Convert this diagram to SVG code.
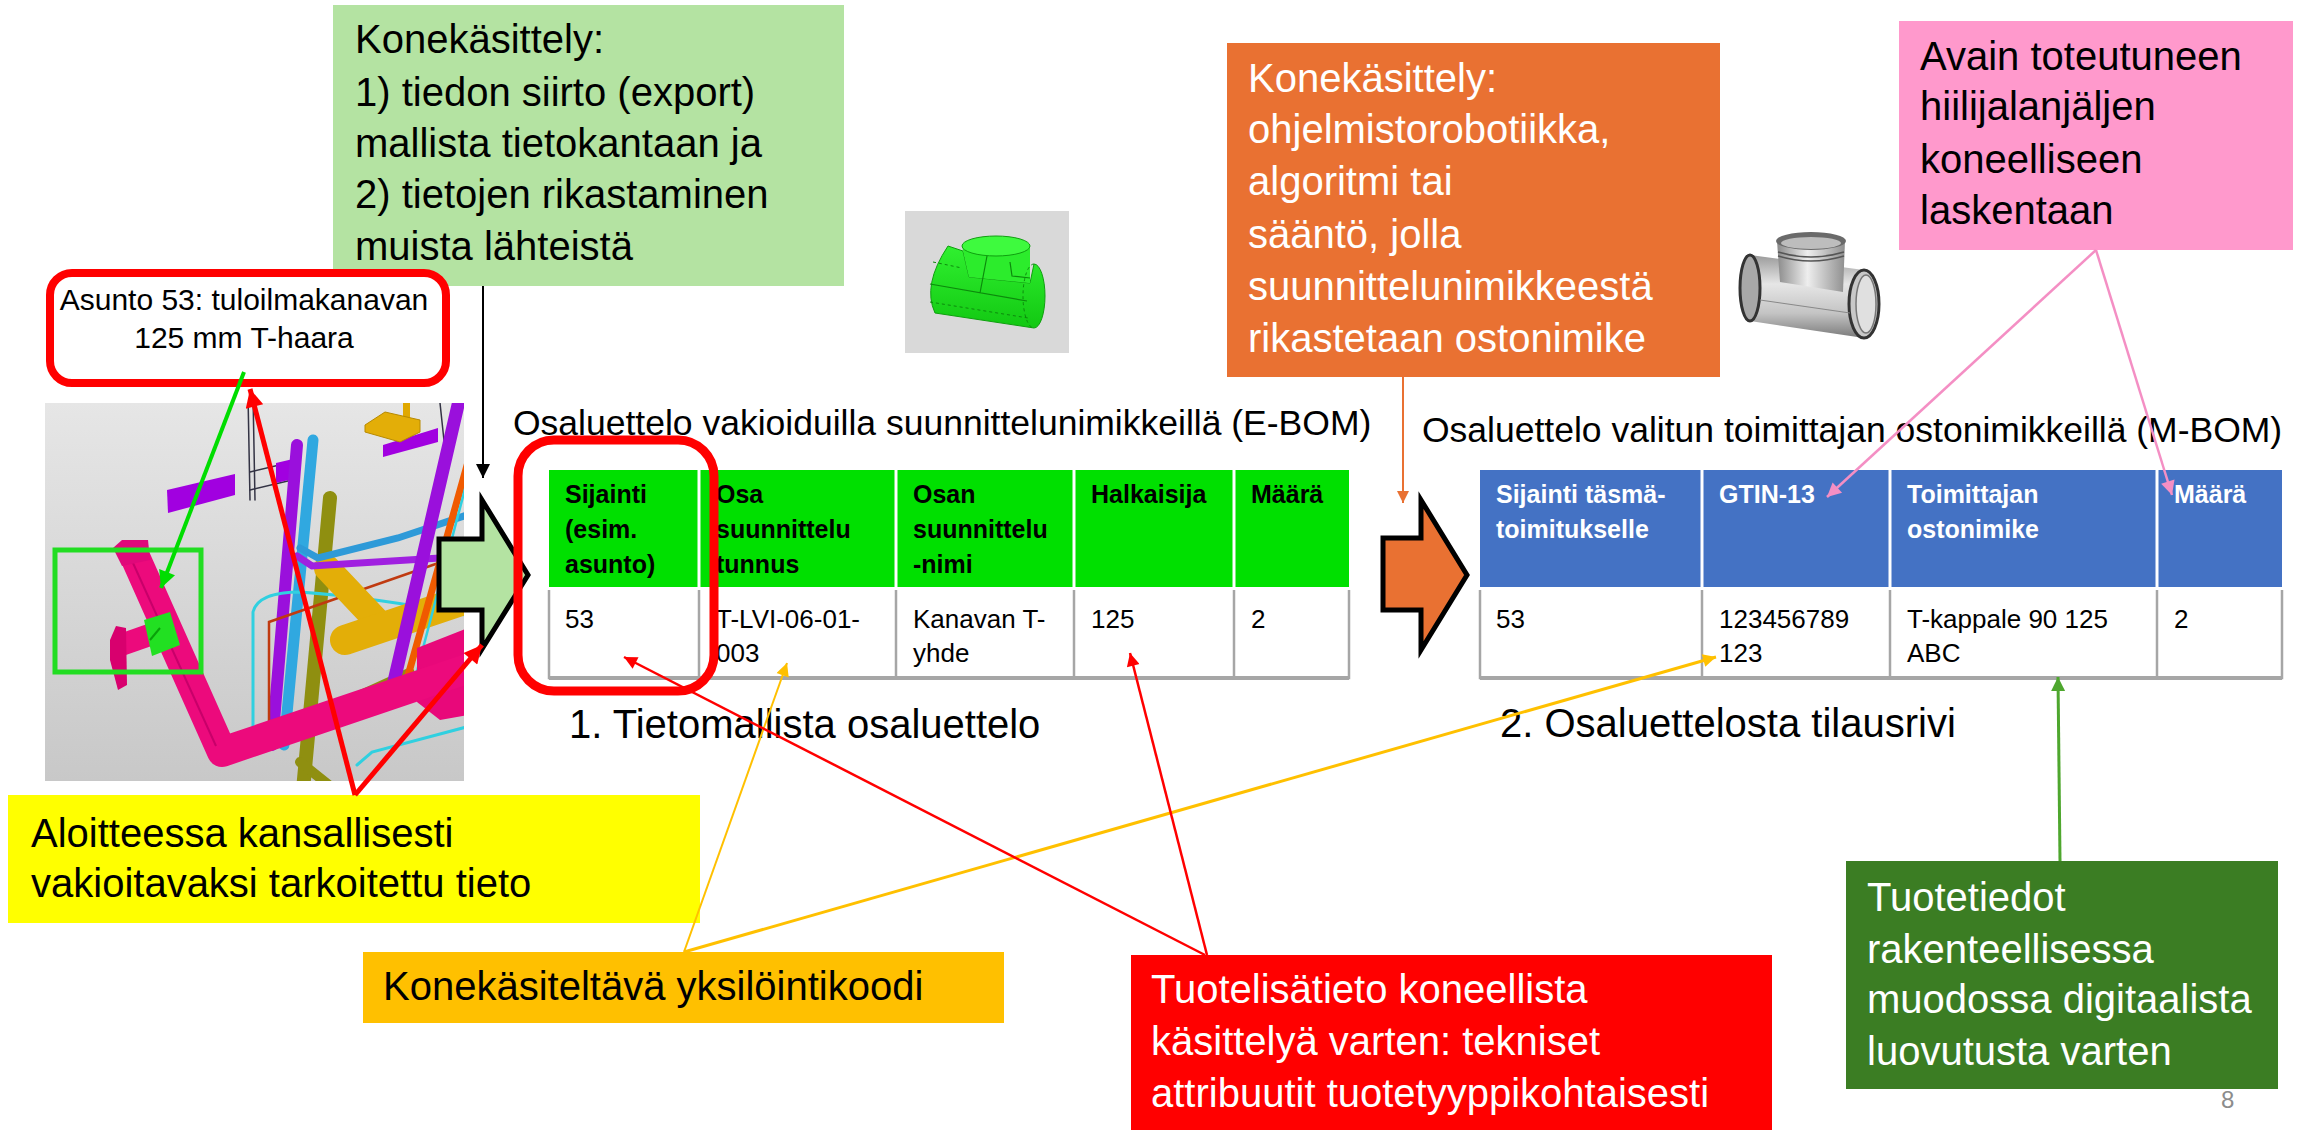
<svg xmlns="http://www.w3.org/2000/svg" width="2320" height="1130" viewBox="0 0 2320 1130">
<style>
text{font-family:"Liberation Sans",Arial,sans-serif;}
.box{font-size:40px;}
.blk{fill:#000;}
.wht{fill:#fff;}
.th{font-size:25px;font-weight:bold;}
.td{font-size:26px;fill:#000;}
.title{font-size:35.5px;fill:#000;}
.sub{font-size:40px;fill:#000;}
.grid{stroke:#A6A6A6;stroke-width:2.5;fill:none;}
.sep{stroke:#fff;stroke-width:3;}
.ln{fill:none;}
</style>
<defs>
<marker id="aBlack" viewBox="0 0 10 10" refX="10" refY="5" markerUnits="userSpaceOnUse" markerWidth="17" markerHeight="14" orient="auto"><path d="M0,0 L10,5 L0,10 z" fill="#000"/></marker>
<marker id="aRedBig" viewBox="0 0 10 10" refX="10" refY="5" markerUnits="userSpaceOnUse" markerWidth="22" markerHeight="18" orient="auto"><path d="M0,0 L10,5 L0,10 z" fill="#FF0000"/></marker>
<marker id="aRed" viewBox="0 0 10 10" refX="10" refY="5" markerUnits="userSpaceOnUse" markerWidth="17" markerHeight="13" orient="auto"><path d="M0,0 L10,5 L0,10 z" fill="#FF0000"/></marker>
<marker id="aGreen" viewBox="0 0 10 10" refX="10" refY="5" markerUnits="userSpaceOnUse" markerWidth="20" markerHeight="17" orient="auto"><path d="M0,0 L10,5 L0,10 z" fill="#00DD00"/></marker>
<marker id="aDGreen" viewBox="0 0 10 10" refX="10" refY="5" markerUnits="userSpaceOnUse" markerWidth="18" markerHeight="14" orient="auto"><path d="M0,0 L10,5 L0,10 z" fill="#4EA72E"/></marker>
<marker id="aOrange" viewBox="0 0 10 10" refX="10" refY="5" markerUnits="userSpaceOnUse" markerWidth="16" markerHeight="12" orient="auto"><path d="M0,0 L10,5 L0,10 z" fill="#E97132"/></marker>
<marker id="aPink" viewBox="0 0 10 10" refX="10" refY="5" markerUnits="userSpaceOnUse" markerWidth="18" markerHeight="14" orient="auto"><path d="M0,0 L10,5 L0,10 z" fill="#F48FC4"/></marker>
<marker id="aAmber" viewBox="0 0 10 10" refX="10" refY="5" markerUnits="userSpaceOnUse" markerWidth="17" markerHeight="13" orient="auto"><path d="M0,0 L10,5 L0,10 z" fill="#FFC000"/></marker>
<linearGradient id="bg3d" x1="0" y1="0" x2="0" y2="1"><stop offset="0" stop-color="#E6E6E6"/><stop offset="1" stop-color="#C8C8C8"/></linearGradient>
<linearGradient id="metalV" x1="0" y1="0" x2="0" y2="1"><stop offset="0" stop-color="#9A9A9A"/><stop offset="0.35" stop-color="#E6E6E6"/><stop offset="0.7" stop-color="#C4C4C4"/><stop offset="1" stop-color="#7A7A7A"/></linearGradient>
<linearGradient id="metalH" x1="0" y1="0" x2="1" y2="0"><stop offset="0" stop-color="#8A8A8A"/><stop offset="0.45" stop-color="#EEEEEE"/><stop offset="1" stop-color="#8F8F8F"/></linearGradient>
<linearGradient id="greenT" x1="0" y1="0" x2="0" y2="1"><stop offset="0" stop-color="#30F030"/><stop offset="1" stop-color="#12C812"/></linearGradient>
<clipPath id="clip3d"><rect x="45" y="403" width="419" height="378"/></clipPath>
</defs>

<!-- 3D model picture -->
<g id="model3d" clip-path="url(#clip3d)">
<rect x="45" y="403" width="419" height="378" fill="url(#bg3d)"/>
<g stroke-linecap="round" fill="none">
<line x1="248" y1="395" x2="250" y2="500" stroke="#334" stroke-width="1.5"/>
<line x1="253" y1="395" x2="255" y2="500" stroke="#334" stroke-width="1.5"/>
<line x1="250" y1="472" x2="292" y2="462" stroke="#334" stroke-width="1.5"/>
<line x1="250" y1="490" x2="292" y2="480" stroke="#334" stroke-width="1.5"/>
<line x1="440" y1="403" x2="445" y2="450" stroke="#334" stroke-width="1.5"/>
</g>
<polygon points="167,490 235,474 235,495 168,513" fill="#A100E0"/>
<polygon points="276,463 293,459 293,479 276,483" fill="#A100E0"/>
<polygon points="383,445 438,428 438,442 383,457" fill="#A100E0"/>
<rect x="403" y="403" width="7" height="18" fill="#E0A800"/>
<polygon points="365,425 385,412 420,420 420,432 400,442 365,432" fill="#E3AE08" stroke="#B88A00" stroke-width="1"/>
<g stroke-linecap="round" fill="none">
<line x1="330" y1="498" x2="303" y2="790" stroke="#8F8F10" stroke-width="14"/>
<line x1="287" y1="728" x2="410" y2="672" stroke="#8F8F10" stroke-width="9"/>
<line x1="297" y1="445" x2="272" y2="745" stroke="#9A10DC" stroke-width="12"/>
<line x1="313" y1="440" x2="284" y2="745" stroke="#30A8E0" stroke-width="11"/>
<path d="M253,745 L253,612 Q258,592 300,592 Q380,598 470,616" stroke="#30D0E0" stroke-width="3"/>
<path d="M269,745 L269,622 L470,552" stroke="#C03A10" stroke-width="2.5"/>
<line x1="327" y1="568" x2="378" y2="622" stroke="#E3AE08" stroke-width="26"/>
<line x1="345" y1="640" x2="470" y2="598" stroke="#E3AE08" stroke-width="30"/>
<polyline points="300,548 318,558 398,538 470,514" stroke="#2E9AD8" stroke-width="7"/>
<polyline points="297,556 312,566 440,558" stroke="#A020E0" stroke-width="7"/>
<line x1="458" y1="405" x2="392" y2="690" stroke="#9A10DC" stroke-width="13"/>
<line x1="468" y1="462" x2="404" y2="690" stroke="#F05A00" stroke-width="7"/>
<line x1="470" y1="470" x2="412" y2="690" stroke="#30D0E0" stroke-width="2.5"/>
<polyline points="357,765 372,752 470,726" stroke="#30D0E0" stroke-width="3"/>
<line x1="300" y1="762" x2="335" y2="790" stroke="#8F8F10" stroke-width="10"/>
</g>
<polygon points="417,648 468,628 468,715 440,720 417,702" fill="#E8087A"/>
<path d="M132,550 L222,752 L470,668" fill="none" stroke="#EC0A7C" stroke-width="30" stroke-linejoin="round"/>
<path d="M128,552 L216,746" fill="none" stroke="#C8006A" stroke-width="2"/>
<line x1="158" y1="632" x2="118" y2="646" stroke="#EC0A7C" stroke-width="22"/>
<polygon points="113,548 122,540 148,540 150,560 122,566" fill="#E0087A"/>
<polygon points="110,640 116,626 126,628 127,685 118,690 110,660" fill="#D8006E"/>
<polygon points="144,620 170,612 180,645 152,656" fill="#22E022"/>
<line x1="150" y1="640" x2="160" y2="628" stroke="#0AA00A" stroke-width="2"/>
</g>

<!-- green annotation box -->
<g id="box-konekasittely-green">
<rect x="333" y="5" width="511" height="281" fill="#B4E3A2"/>
<text class="box blk" x="355" y="53">Konekäsittely:</text>
<text class="box blk" x="355" y="106">1) tiedon siirto (export)</text>
<text class="box blk" x="355" y="157">mallista tietokantaan ja</text>
<text class="box blk" x="355" y="208">2) tietojen rikastaminen</text>
<text class="box blk" x="355" y="260">muista lähteistä</text>
</g>

<!-- Asunto label -->
<g id="label-asunto">
<rect x="50" y="273" width="396" height="110" rx="22" fill="#fff" stroke="#FF0000" stroke-width="8"/>
<text x="244" y="310" font-size="30" text-anchor="middle" fill="#000">Asunto 53: tuloilmakanavan</text>
<text x="244" y="348" font-size="30" text-anchor="middle" fill="#000">125 mm T-haara</text>
</g>

<!-- green T fitting image -->
<g id="img-green-tee">
<rect x="905" y="211" width="164" height="142" fill="#D9D9D9"/>
<path d="M948,246 L963,251 L969,277 L1030,283 L1034,264 A11,32 0 0 1 1034,328 L935,313 Q922,285 948,246 z" fill="url(#greenT)" stroke="#0FA00F" stroke-width="1"/>
<path d="M962,246 L969,277 L1030,283 L1030,246 z" fill="#2CEC2C"/>
<ellipse cx="996" cy="246" rx="34" ry="10" fill="#3EFA3E" stroke="#0FA00F" stroke-width="1"/>
<path d="M987,256 L980,293 M930,284 L1027,301 M1010,262 L1012,276 L1030,278" stroke="#0C8A0C" stroke-width="1.2" fill="none"/>
<path d="M933,262 L962,268 M930,302 L1028,318 M1034,264 A11,32 0 0 0 1034,328" stroke="#0C8A0C" stroke-width="1" stroke-dasharray="3,3" fill="none"/>
</g>

<!-- orange annotation box -->
<g id="box-konekasittely-orange">
<rect x="1227" y="43" width="493" height="334" fill="#E97132"/>
<text class="box wht" x="1248" y="92">Konekäsittely:</text>
<text class="box wht" x="1248" y="143">ohjelmistorobotiikka,</text>
<text class="box wht" x="1248" y="195">algoritmi tai</text>
<text class="box wht" x="1248" y="248">sääntö, jolla</text>
<text class="box wht" x="1248" y="300">suunnittelunimikkeestä</text>
<text class="box wht" x="1248" y="352">rikastetaan ostonimike</text>
</g>

<!-- metal T fitting image -->
<g id="img-metal-tee">
<path d="M1750,255 L1864,270 A15,34 0 0 1 1864,338 L1750,321 A10,33 0 0 1 1750,255 z" fill="url(#metalV)"/>
<path d="M1777,241 L1780,282 L1843,292 L1845,241 z" fill="url(#metalH)"/>
<ellipse cx="1811" cy="241" rx="35" ry="9" fill="#6A6A6A"/>
<ellipse cx="1811" cy="243" rx="30" ry="6" fill="#BDBDBD"/>
<path d="M1778,252 Q1811,262 1844,252 M1778,256 Q1811,266 1844,256" stroke="#555" stroke-width="1.5" fill="none"/>
<ellipse cx="1750" cy="288" rx="10" ry="33" fill="#A8A8A8" stroke="#333" stroke-width="3"/>
<ellipse cx="1864" cy="304" rx="15" ry="34" fill="#C8C8C8" stroke="#333" stroke-width="3"/>
<ellipse cx="1866" cy="304" rx="10" ry="29" fill="#E0E0E0" stroke="#777" stroke-width="1.5"/>
<path d="M1760,300 L1850,313" stroke="#888" stroke-width="1" fill="none"/>
</g>

<!-- pink annotation box -->
<g id="box-avain">
<rect x="1899" y="21" width="394" height="229" fill="#FF99CC"/>
<text class="box blk" x="1920" y="70">Avain toteutuneen</text>
<text class="box blk" x="1920" y="120">hiilijalanjäljen</text>
<text class="box blk" x="1920" y="173">koneelliseen</text>
<text class="box blk" x="1920" y="224">laskentaan</text>
</g>

<!-- E-BOM -->
<g id="ebom">
<text class="title" x="513" y="435">Osaluettelo vakioiduilla suunnittelunimikkeillä (E-BOM)</text>
<rect x="549" y="470" width="800" height="117" fill="#00E000"/>
<line class="sep" x1="699" y1="470" x2="699" y2="587"/>
<line class="sep" x1="896" y1="470" x2="896" y2="587"/>
<line class="sep" x1="1074" y1="470" x2="1074" y2="587"/>
<line class="sep" x1="1234" y1="470" x2="1234" y2="587"/>
<rect x="549" y="587" width="800" height="91" fill="#fff"/>
<path class="grid" d="M549,590 L549,678 L1349,678 L1349,590 M699,590 L699,678 M896,590 L896,678 M1074,590 L1074,678 M1234,590 L1234,678"/>
<line x1="549" y1="678" x2="1349" y2="678" stroke="#A6A6A6" stroke-width="4"/>
<g class="th blk">
<text x="565" y="503">Sijainti</text><text x="565" y="538">(esim.</text><text x="565" y="573">asunto)</text>
<text x="716" y="503">Osa</text><text x="716" y="538">suunnittelu</text><text x="716" y="573">tunnus</text>
<text x="913" y="503">Osan</text><text x="913" y="538">suunnittelu</text><text x="913" y="573">-nimi</text>
<text x="1091" y="503">Halkaisija</text>
<text x="1251" y="503">Määrä</text>
</g>
<text class="td" x="565" y="628">53</text>
<text class="td" x="716" y="628">T-LVI-06-01-</text><text class="td" x="716" y="662">003</text>
<text class="td" x="913" y="628">Kanavan T-</text><text class="td" x="913" y="662">yhde</text>
<text class="td" x="1091" y="628">125</text>
<text class="td" x="1251" y="628">2</text>
<text class="sub" x="569" y="738">1. Tietomallista osaluettelo</text>
</g>

<!-- big arrows -->
<g id="arrow-green-block">
<polygon points="439,539 482,539 482,500 528,575 482,649 482,610 439,610" fill="#B4E3A2" stroke="#000" stroke-width="5" stroke-linejoin="miter"/>
</g>
<g id="arrow-orange-block">
<polygon points="1383,538 1421,538 1421,500 1467,575 1421,650 1421,610 1383,610" fill="#E97132" stroke="#000" stroke-width="5" stroke-linejoin="miter"/>
</g>

<!-- Sijainti highlight -->
<g id="highlight-sijainti">
<rect x="518" y="440" width="196" height="251" rx="36" fill="none" stroke="#FF0000" stroke-width="9"/>
</g>

<!-- M-BOM -->
<g id="mbom">
<text class="title" x="1422" y="442">Osaluettelo valitun toimittajan ostonimikkeillä (M-BOM)</text>
<rect x="1480" y="470" width="802" height="117" fill="#4472C4"/>
<line class="sep" x1="1702" y1="470" x2="1702" y2="587"/>
<line class="sep" x1="1890" y1="470" x2="1890" y2="587"/>
<line class="sep" x1="2157" y1="470" x2="2157" y2="587"/>
<rect x="1480" y="587" width="802" height="91" fill="#fff"/>
<path class="grid" d="M1480,590 L1480,678 L2282,678 L2282,590 M1702,590 L1702,678 M1890,590 L1890,678 M2157,590 L2157,678"/>
<line x1="1480" y1="678" x2="2282" y2="678" stroke="#A6A6A6" stroke-width="4"/>
<g class="th wht">
<text x="1496" y="503">Sijainti täsmä-</text><text x="1496" y="538">toimitukselle</text>
<text x="1719" y="503">GTIN-13</text>
<text x="1907" y="503">Toimittajan</text><text x="1907" y="538">ostonimike</text>
<text x="2174" y="503">Määrä</text>
</g>
<text class="td" x="1496" y="628">53</text>
<text class="td" x="1719" y="628">123456789</text><text class="td" x="1719" y="662">123</text>
<text class="td" x="1907" y="628">T-kappale 90 125</text><text class="td" x="1907" y="662">ABC</text>
<text class="td" x="2174" y="628">2</text>
<text class="sub" x="1500" y="737">2. Osaluettelosta tilausrivi</text>
</g>

<!-- bottom boxes -->
<g id="box-aloitteessa">
<rect x="8" y="795" width="692" height="128" fill="#FFFF00"/>
<text class="box blk" x="31" y="847">Aloitteessa kansallisesti</text>
<text class="box blk" x="31" y="897">vakioitavaksi tarkoitettu tieto</text>
</g>
<g id="box-yksilointikoodi">
<rect x="363" y="952" width="641" height="71" fill="#FFC000"/>
<text class="box blk" x="383" y="1000">Konekäsiteltävä yksilöintikoodi</text>
</g>
<g id="box-tuotelisatieto">
<rect x="1131" y="955" width="641" height="180" fill="#FF0000"/>
<text class="box wht" x="1151" y="1003">Tuotelisätieto koneellista</text>
<text class="box wht" x="1151" y="1055">käsittelyä varten: tekniset</text>
<text class="box wht" x="1151" y="1107">attribuutit tuotetyyppikohtaisesti</text>
</g>
<g id="box-tuotetiedot">
<rect x="1846" y="861" width="432" height="228" fill="#3B7D23"/>
<text class="box wht" x="1867" y="911">Tuotetiedot</text>
<text class="box wht" x="1867" y="963">rakenteellisessa</text>
<text class="box wht" x="1867" y="1013">muodossa digitaalista</text>
<text class="box wht" x="1867" y="1065">luovutusta varten</text>
</g>
<g id="page-number">
<text x="2221" y="1108" font-size="24" fill="#8C8C8C">8</text>
</g>

<!-- green outline around the T in model -->
<g id="model-highlight">
<rect x="55" y="550" width="146" height="122" fill="none" stroke="#22DD22" stroke-width="5"/>
</g>

<!-- connectors -->
<g id="connectors" class="ln">
<line x1="483" y1="286" x2="483" y2="478" stroke="#000" stroke-width="2" marker-end="url(#aBlack)"/>
<line x1="244" y1="372" x2="161" y2="588" stroke="#00DD00" stroke-width="4" marker-end="url(#aGreen)"/>
<line x1="355" y1="795" x2="250" y2="389" stroke="#FF0000" stroke-width="5" marker-end="url(#aRedBig)"/>
<line x1="355" y1="795" x2="482" y2="645" stroke="#FF0000" stroke-width="5" marker-end="url(#aRedBig)"/>
<line x1="1403" y1="377" x2="1403" y2="503" stroke="#E97132" stroke-width="2" marker-end="url(#aOrange)"/>
<line x1="2096" y1="250" x2="1827" y2="497" stroke="#F48FC4" stroke-width="2.5" marker-end="url(#aPink)"/>
<line x1="2096" y1="250" x2="2172" y2="495" stroke="#F48FC4" stroke-width="2.5" marker-end="url(#aPink)"/>
<line x1="684" y1="952" x2="787" y2="663" stroke="#FFC000" stroke-width="2" marker-end="url(#aAmber)"/>
<line x1="684" y1="952" x2="1716" y2="657" stroke="#FFC000" stroke-width="3" marker-end="url(#aAmber)"/>
<line x1="1205" y1="955" x2="624" y2="657" stroke="#FF0000" stroke-width="2.5" marker-end="url(#aRed)"/>
<line x1="1207" y1="955" x2="1130" y2="653" stroke="#FF0000" stroke-width="2.5" marker-end="url(#aRed)"/>
<line x1="2060" y1="861" x2="2058" y2="677" stroke="#4EA72E" stroke-width="3" marker-end="url(#aDGreen)"/>
</g>
</svg>
